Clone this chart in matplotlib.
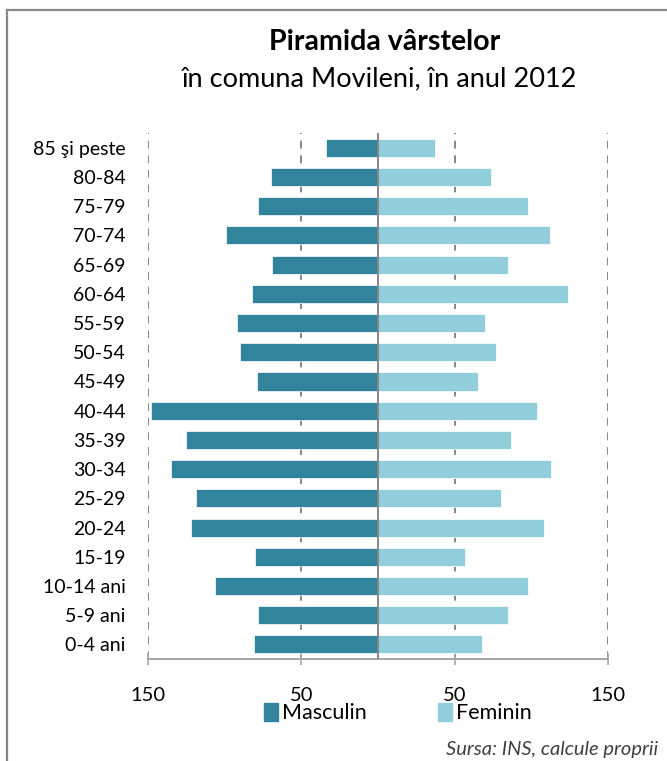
import numpy as np
import matplotlib.pyplot as plt
from matplotlib.lines import Line2D
from matplotlib.patches import Patch

plt.rcParams['font.family'] = ['Lato', 'DejaVu Sans']

groups = ['85 şi peste', '80-84', '75-79', '70-74', '65-69', '60-64', '55-59', '50-54', '45-49',
          '40-44', '35-39', '30-34', '25-29', '20-24', '15-19', '10-14 ani', '5-9 ani', '0-4 ani']
masculin = [34, 70, 78, 99, 69, 82, 92, 90, 79, 148, 125, 135, 119, 122, 80, 106, 78, 81]
feminin = [37, 74, 98, 112, 85, 124, 70, 77, 65, 104, 87, 113, 80, 108, 57, 98, 85, 68]
ticks = [-150, -50, 50, 150]

c_m = '#31849B'
c_f = '#92CDDC'
grey = '#868686'

fig = plt.figure(figsize=(6.67, 7.61), dpi=100)
ax = fig.add_axes([0.2219, 0.134, 0.6897, 0.691])

y = np.arange(len(groups))
ax.barh(y, -np.array(masculin), height=0.62, color=c_m, edgecolor='white', linewidth=0.5, zorder=3)
ax.barh(y, feminin, height=0.62, color=c_f, edgecolor='white', linewidth=0.5, zorder=3)

for t in ticks:
    ax.axvline(t, color=grey, linestyle=(0, (4, 3.5)), linewidth=1.4, zorder=1)
ax.axvline(0, color=grey, linewidth=1.4, zorder=4)

ax.set_xlim(-150, 150)
ax.set_ylim(len(groups) - 0.5, -0.5)
ax.set_yticks(y)
ax.set_yticklabels(groups, fontsize=14)
ax.set_xticks(ticks)
ax.set_xticklabels([str(abs(t)) for t in ticks], fontsize=14.5)
ax.tick_params(axis='y', length=0, pad=16)
ax.tick_params(axis='x', length=8, width=1.2, direction='inout', color='#A6A6A6', pad=16)

for s in ['top', 'left', 'right']:
    ax.spines[s].set_visible(False)
ax.spines['bottom'].set_color('#A6A6A6')
ax.spines['bottom'].set_linewidth(1.4)

fig.text(385 / 667, 1 - 42 / 761, 'Piramida vârstelor', ha='center', va='center', fontsize=20.5, fontweight='bold')
fig.text(380 / 667, 1 - 79 / 761, 'în comuna Movileni, în anul 2012', ha='center', va='center', fontsize=19.5)

handles = [Patch(color=c_m, label='Masculin'), Patch(color=c_f, label='Feminin')]
fig.legend(handles=handles, loc='center', bbox_to_anchor=(398 / 667, 1 - 713 / 761), ncol=2, frameon=False,
           fontsize=15.5, handlelength=0.65, handleheight=0.95, handletextpad=0.2, columnspacing=3.3)

fig.text(658 / 667, 1 - 749 / 761, 'Sursa: INS, calcule proprii', ha='right', va='center',
         fontsize=14.5, style='italic', color='#404040')

# chart frame (only left and top edges are visible in the crop)
fig.add_artist(Line2D([0.0105, 0.0105], [0, 0.987], color='#888888', linewidth=1.6))
fig.add_artist(Line2D([0.0105, 1.0], [0.987, 0.987], color='#888888', linewidth=1.6))

plt.savefig('out.png', dpi=100)
plt.close()
